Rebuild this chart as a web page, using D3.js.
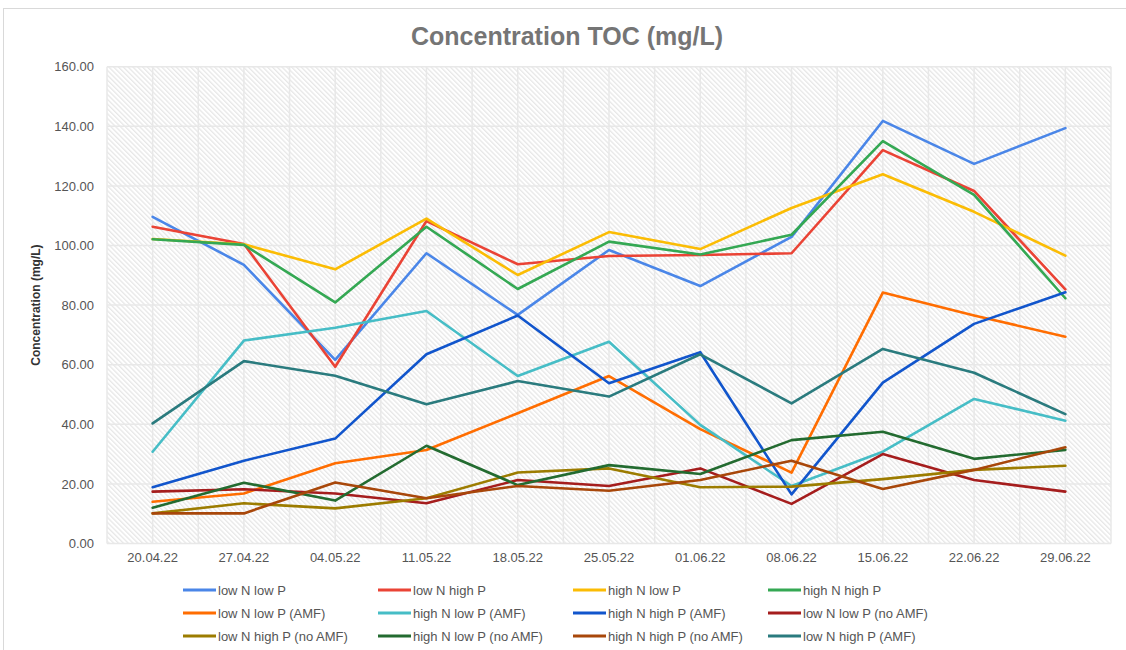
<!DOCTYPE html>
<html>
<head>
<meta charset="utf-8">
<script src="https://cdn.jsdelivr.net/npm/d3@7"></script>
<style>
	body { margin: 0; background: #fff; }
	svg { display: block; font-family: "Liberation Sans", Arial, sans-serif; }
</style>
</head>
<body>
<script>
"use strict";

//sampling dates
const dates = ["20.04.22", "27.04.22", "04.05.22", "11.05.22", "18.05.22", "25.05.22",
	"01.06.22", "08.06.22", "15.06.22", "22.06.22", "29.06.22"];

const yTicks = [0, 20, 40, 60, 80, 100, 120, 140, 160];

//series names, in legend order
const seriesNames = [
	"low N low P", "low N high P", "high N low P", "high N high P",
	"low N low P (AMF)", "high N low P (AMF)", "high N high P (AMF)", "low N low P (no AMF)",
	"low N high P (no AMF)", "high N low P (no AMF)", "high N high P (no AMF)", "low N high P (AMF)"
];

const seriesColors = [
	"#4a86e8", "#ea4335", "#fbbc04", "#34a853",
	"#ff6d01", "#46bdc6", "#1155cc", "#a51d1d",
	"#9c7c00", "#236b30", "#a8470a", "#2a7b7e"
];

//TOC values (mg/L)
const lowNlowP         = [109.6, 93.5, 61.6, 97.4, 76.7, 98.5, 86.4, 102.9, 141.8, 127.4, 139.4];
const lowNhighP        = [106.3, 100.5, 59.3, 108.2, 93.7, 96.5, 96.8, 97.4, 132.0, 118.3, 85.3];
const highNlowP        = [102.2, 100.4, 92.0, 109.0, 90.1, 104.5, 98.8, 112.6, 123.9, 111.3, 96.6];
const highNhighP       = [102.1, 100.2, 80.9, 106.3, 85.4, 101.3, 97.0, 103.6, 135.0, 117.0, 82.3];
const lowNlowPAMF      = [14.0, 16.8, 26.9, 31.4, 43.7, 56.2, 38.4, 23.8, 84.2, 76.5, 69.4];
const highNlowPAMF     = [30.8, 68.1, 72.4, 78.0, 56.2, 67.7, 39.8, 19.3, 30.8, 48.5, 41.2];
const highNhighPAMF    = [18.9, 27.8, 35.2, 63.5, 76.5, 53.8, 64.2, 16.5, 54.0, 73.7, 84.3];
const lowNlowPnoAMF    = [17.4, 18.2, 16.8, 13.5, 21.3, 19.3, 25.2, 13.3, 30.0, 21.3, 17.4];
const lowNhighPnoAMF   = [10.1, 13.5, 11.8, 15.2, 23.8, 25.2, 18.9, 19.1, 21.6, 24.7, 26.1];
const highNlowPnoAMF   = [12.0, 20.4, 14.4, 32.8, 19.6, 26.3, 23.3, 34.7, 37.5, 28.4, 31.4];
const highNhighPnoAMF  = [10.1, 10.1, 20.5, 15.2, 19.3, 17.7, 21.3, 27.8, 18.3, 24.7, 32.3];
const lowNhighPAMF     = [40.3, 61.2, 56.3, 46.7, 54.5, 49.3, 63.5, 47.0, 65.3, 57.3, 43.4];

const seriesValues = [
	lowNlowP, lowNhighP, highNlowP, highNhighP,
	lowNlowPAMF, highNlowPAMF, highNhighPAMF, lowNlowPnoAMF,
	lowNhighPnoAMF, highNlowPnoAMF, highNhighPnoAMF, lowNhighPAMF
];

const W = 1126, H = 650;
const plot = { left: 107, right: 1111, top: 66.7, bottom: 543.5 };

let svg = d3.select("body").append("svg")
	.attr("width", W)
	.attr("height", H);

//hatch fill for the plot area
let defs = svg.append("defs");
let pat = defs.append("pattern")
	.attr("id", "hatch")
	.attr("patternUnits", "userSpaceOnUse")
	.attr("width", 4)
	.attr("height", 3.4)
	.attr("patternTransform", "rotate(45)");
pat.append("rect").attr("width", 4).attr("height", 3.4).attr("fill", "#ffffff");
pat.append("line")
	.attr("x1", 0).attr("y1", 1).attr("x2", 4).attr("y2", 1)
	.attr("stroke", "#e0e0e0")
	.attr("stroke-width", 1);

//outer frame
svg.append("rect")
	.attr("x", 3.5).attr("y", 8.5)
	.attr("width", W + 10).attr("height", H + 10)
	.attr("fill", "none")
	.attr("stroke", "#d9d9d9")
	.attr("stroke-width", 1);

//title
svg.append("text")
	.attr("x", 567)
	.attr("y", 45)
	.attr("text-anchor", "middle")
	.attr("font-size", 25)
	.attr("font-weight", "bold")
	.attr("fill", "#757575")
	.text("Concentration TOC (mg/L)");

let x = d3.scaleBand()
	.domain(dates)
	.range([plot.left, plot.right])
	.padding(0);
let xc = function(d) { return x(d) + x.bandwidth() / 2; };

let y = d3.scaleLinear()
	.domain([0, 160])
	.range([plot.bottom, plot.top]);

svg.append("rect")
	.attr("x", plot.left)
	.attr("y", plot.top)
	.attr("width", plot.right - plot.left)
	.attr("height", plot.bottom - plot.top)
	.attr("fill", "url(#hatch)");

//gridlines
let grid = svg.append("g")
	.attr("stroke", "#e8e8e8")
	.attr("stroke-width", 1.5);
for (let t of yTicks)
{
	grid.append("line")
		.attr("x1", plot.left).attr("x2", plot.right)
		.attr("y1", y(t)).attr("y2", y(t));
}
for (let i = 0; i <= dates.length; ++i)
{
	let bx = plot.left + i * x.bandwidth();
	grid.append("line")
		.attr("x1", bx).attr("x2", bx)
		.attr("y1", plot.top).attr("y2", plot.bottom);
	if (i < dates.length)
	{
		grid.append("line")
			.attr("x1", xc(dates[i])).attr("x2", xc(dates[i]))
			.attr("y1", plot.top).attr("y2", plot.bottom);
	}
}

//axes
let yAxis = svg.append("g")
	.attr("transform", "translate(" + (plot.left - 13) + ",0)")
	.call(d3.axisLeft(y).tickValues(yTicks).tickFormat(d3.format(".2f")).tickSize(0).tickPadding(0));
yAxis.select(".domain").remove();
yAxis.selectAll("text")
	.attr("font-size", 13)
	.attr("font-family", "Liberation Sans, Arial, sans-serif")
	.attr("fill", "#555");

let xAxis = svg.append("g")
	.attr("transform", "translate(0," + plot.bottom + ")")
	.call(d3.axisBottom(x).tickSize(0).tickPadding(9));
xAxis.select(".domain").remove();
xAxis.selectAll("text")
	.attr("font-size", 13)
	.attr("font-family", "Liberation Sans, Arial, sans-serif")
	.attr("fill", "#555");

//y axis title
svg.append("text")
	.attr("transform", "translate(40," + ((plot.top + plot.bottom) / 2) + ") rotate(-90)")
	.attr("text-anchor", "middle")
	.attr("font-size", 12)
	.attr("font-weight", "bold")
	.attr("fill", "#333")
	.text("Concentration (mg/L)");

//lines
let line = d3.line()
	.x(function(d, i) { return xc(dates[i]); })
	.y(function(d) { return y(d); });

let lines = svg.append("g")
	.attr("fill", "none")
	.attr("stroke-width", 2.6)
	.attr("stroke-linejoin", "round")
	.attr("stroke-linecap", "round");
seriesValues.forEach(function(vals, s)
{
	lines.append("path")
		.attr("stroke", seriesColors[s])
		.attr("d", line(vals));
});

//legend, 4 columns x 3 rows
let legCols = [183, 378, 573, 768];
let legRows = [590, 613, 636];
let legend = svg.append("g");
seriesNames.forEach(function(name, s)
{
	let lx = legCols[s % 4], ly = legRows[Math.floor(s / 4)];
	legend.append("line")
		.attr("x1", lx).attr("x2", lx + 33)
		.attr("y1", ly).attr("y2", ly)
		.attr("stroke", seriesColors[s])
		.attr("stroke-width", 3);
	legend.append("text")
		.attr("x", lx + 35)
		.attr("y", ly + 4.5)
		.attr("font-size", 13)
		.attr("fill", "#555")
		.text(name);
});
</script>
</body>
</html>
